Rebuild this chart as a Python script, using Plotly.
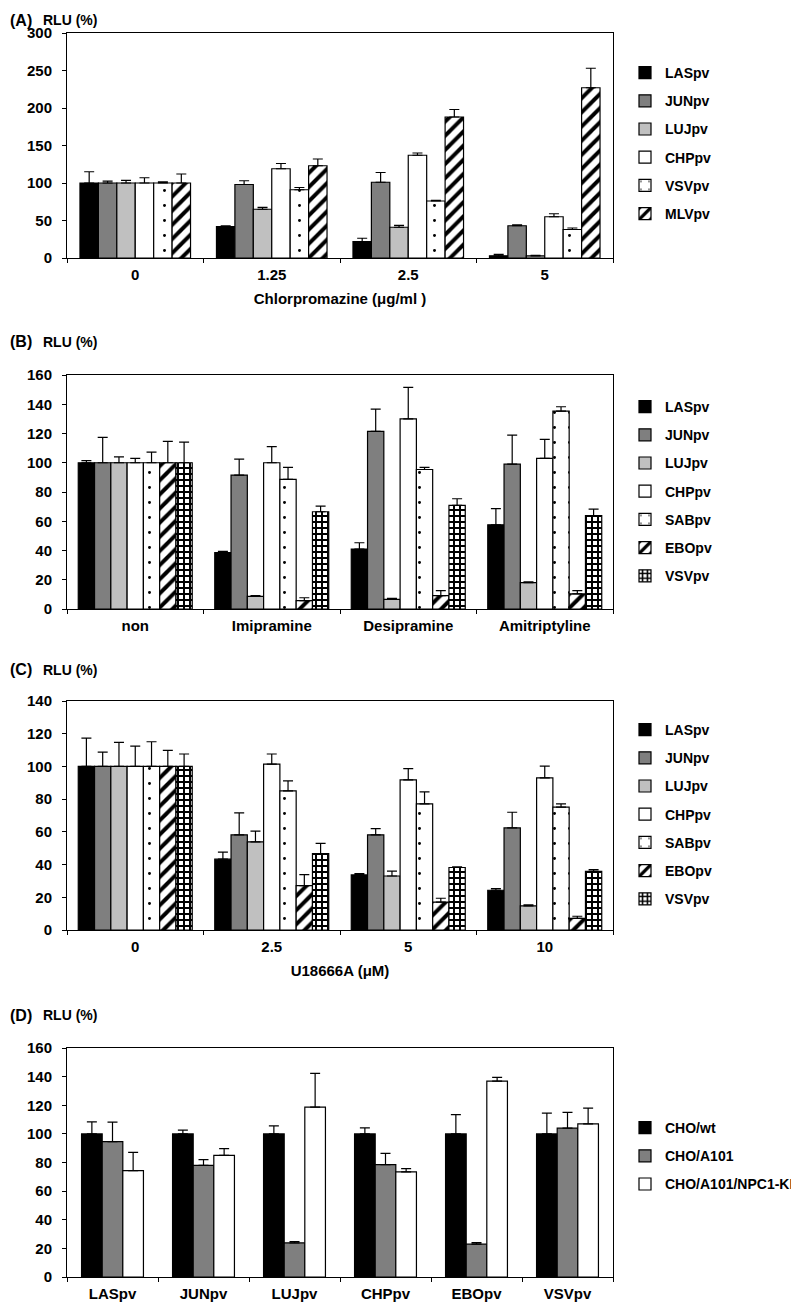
import plotly.graph_objects as go

W, H = 799, 1302

# ---------------- Panel A : Chlorpromazine ----------------
a_cats = ["0", "1.25", "2.5", "5"]
a_las = [100, 42, 22, 3]
a_las_err = [15, 1, 4.3, 1.8]
a_jun = [100, 98, 101, 43]
a_jun_err = [2.5, 5, 13, 1.2]
a_luj = [100, 65, 41, 2.7]
a_luj_err = [3.5, 2.5, 2.5, 0.8]
a_chp = [100, 119, 137, 55]
a_chp_err = [7, 7, 3, 4]
a_vsv = [100, 91, 76, 38]
a_vsv_err = [1.5, 3, 1, 2]
a_mlv = [100, 123, 188, 227]
a_mlv_err = [12, 9, 10, 26]

# ---------------- Panel B : tricyclic drugs ----------------
b_cats = ["non", "Imipramine", "Desipramine", "Amitriptyline"]
b_las = [100, 38.5, 41, 57.6]
b_las_err = [1.4, 0.9, 4.3, 11]
b_jun = [100, 91.6, 121.4, 99]
b_jun_err = [17.3, 10.9, 15.3, 19.9]
b_luj = [100, 8.7, 6.6, 18]
b_luj_err = [4, 0.4, 0.7, 0.5]
b_chp = [100, 100, 130, 103]
b_chp_err = [3, 11, 21.5, 13]
b_sab = [100, 88.6, 95.4, 135.3]
b_sab_err = [7.3, 8.2, 1.4, 3]
b_ebo = [100, 5.7, 9.1, 10.3]
b_ebo_err = [14.6, 2, 3.4, 2.2]
b_vsv = [100, 66.5, 70.8, 63.8]
b_vsv_err = [14.1, 3.9, 4.6, 4.5]

# ---------------- Panel C : U18666A ----------------
c_cats = ["0", "2.5", "5", "10"]
c_las = [100, 43.3, 33.7, 24.3]
c_las_err = [17.3, 4.3, 0.8, 1]
c_jun = [100, 58.2, 58.2, 62.4]
c_jun_err = [8.8, 13.4, 3.8, 9.6]
c_luj = [100, 53.9, 33, 14.7]
c_luj_err = [14.7, 6.5, 3, 0.6]
c_chp = [100, 101.4, 91.8, 93]
c_chp_err = [12.4, 6.2, 6.8, 7.2]
c_sab = [100, 85.1, 77.1, 75.1]
c_sab_err = [15.1, 6.1, 7.4, 2]
c_ebo = [100, 27.1, 17.1, 7.1]
c_ebo_err = [9.8, 6.8, 2.3, 1.3]
c_vsv = [100, 46.7, 38.2, 35.9]
c_vsv_err = [7.6, 6.3, 0.4, 1]

# ---------------- Panel D : CHO cells ----------------
d_cats = ["LASpv", "JUNpv", "LUJpv", "CHPpv", "EBOpv", "VSVpv"]
d_wt = [100, 100, 100, 100, 100, 100]
d_wt_err = [8.4, 2.6, 5.6, 4.2, 13.5, 14.5]
d_a101 = [94.6, 78, 23.8, 78.5, 22.9, 104]
d_a101_err = [13.6, 4, 1, 7.9, 1.1, 11]
d_ki = [74.3, 85, 118.7, 73.4, 136.9, 107]
d_ki_err = [12.8, 4.7, 23.6, 2.3, 2.6, 11]

# ---------------- styles ----------------
FONT = "Liberation Sans, Arial, sans-serif"
STY = {
    "black": dict(color="black"),
    "dark": dict(color="#7f7f7f"),
    "light": dict(color="#c0c0c0"),
    "white": dict(color="white"),
    "dots": dict(color="white", pattern=dict(shape=".", fgcolor="black", bgcolor="white",
                                             size=15, solidity=0.03, fillmode="replace")),
    "stripes": dict(color="white", pattern=dict(shape="/", fgcolor="black", bgcolor="white",
                                                size=10, solidity=0.4, fillmode="replace")),
    "checker": dict(color="white", pattern=dict(shape="+", fgcolor="black", bgcolor="white",
                                                size=6, solidity=0.55, fillmode="replace")),
}

# the page places the figure 8 px in from the window's top-left corner
OX, OY = 8, 8


def xp(px):
    return (px - OX) / W


def yp(px):
    return min(1.0, 1 - (px - OY) / H)


fig = go.Figure()


def add_panel(k, cats, series, group_w):
    n = len(series)
    bw = group_w / n
    legend = "legend" if k == 1 else f"legend{k}"
    for i, (name, vals, errs, sty) in enumerate(series):
        m = dict(STY[sty])
        m["line"] = dict(color="black", width=1.2)
        fig.add_trace(go.Bar(
            x=cats, y=vals, name=name,
            xaxis="x" if k == 1 else f"x{k}",
            yaxis="y" if k == 1 else f"y{k}",
            width=bw, offset=-group_w / 2 + i * bw,
            marker=m,
            error_y=dict(type="data", symmetric=False, array=errs,
                         arrayminus=[0] * len(errs), color="black",
                         thickness=1.2, width=5),
            legend=legend, legendgroup=f"p{k}_{i}",
        ))


add_panel(1, a_cats, [
    ("LASpv", a_las, a_las_err, "black"),
    ("JUNpv", a_jun, a_jun_err, "dark"),
    ("LUJpv", a_luj, a_luj_err, "light"),
    ("CHPpv", a_chp, a_chp_err, "white"),
    ("VSVpv", a_vsv, a_vsv_err, "dots"),
    ("MLVpv", a_mlv, a_mlv_err, "stripes"),
], 0.81)

add_panel(2, b_cats, [
    ("LASpv", b_las, b_las_err, "black"),
    ("JUNpv", b_jun, b_jun_err, "dark"),
    ("LUJpv", b_luj, b_luj_err, "light"),
    ("CHPpv", b_chp, b_chp_err, "white"),
    ("SABpv", b_sab, b_sab_err, "dots"),
    ("EBOpv", b_ebo, b_ebo_err, "stripes"),
    ("VSVpv", b_vsv, b_vsv_err, "checker"),
], 0.835)

add_panel(3, c_cats, [
    ("LASpv", c_las, c_las_err, "black"),
    ("JUNpv", c_jun, c_jun_err, "dark"),
    ("LUJpv", c_luj, c_luj_err, "light"),
    ("CHPpv", c_chp, c_chp_err, "white"),
    ("SABpv", c_sab, c_sab_err, "dots"),
    ("EBOpv", c_ebo, c_ebo_err, "stripes"),
    ("VSVpv", c_vsv, c_vsv_err, "checker"),
], 0.835)

add_panel(4, d_cats, [
    ("CHO/wt", d_wt, d_wt_err, "black"),
    ("CHO/A101", d_a101, d_a101_err, "dark"),
    ("CHO/A101/NPC1-KI", d_ki, d_ki_err, "white"),
], 0.68)

bold = dict(family=FONT, size=15, color="black", weight="bold")
legfont = dict(family=FONT, size=14, color="black", weight="bold")

# panel geometry in window pixels: (top, bottom, ymax, dtick, xtitle, first legend row, label_y)
panels = [
    (33, 258, 300, 50, "Chlorpromazine (μg/ml )", 73, 10),
    (375, 609, 160, 20, None, 407, 342),
    (701, 930, 140, 20, "U18666A (μM)", 730, 670),
    (1048, 1277, 160, 20, None, 1128, 1015),
]

layout = dict(
    width=W, height=H, margin=dict(l=0, r=0, t=0, b=0, autoexpand=False),
    paper_bgcolor="white", plot_bgcolor="white",
    barmode="overlay", font=bold, annotations=[],
)

for idx, (top, bot, ymax, dt, xtitle, lrow, laby) in enumerate(panels):
    k = idx + 1
    sx = "" if k == 1 else str(k)
    xa = dict(
        domain=[xp(67), xp(613)], anchor="y" + sx, type="category",
        showline=True, linecolor="black", linewidth=1, mirror=True,
        ticks="outside", tickson="boundaries", ticklen=4, tickcolor="black",
        showgrid=False, zeroline=False, tickfont=bold, ticklabelstandoff=3,
        automargin=False,
    )
    if xtitle:
        xa["title"] = dict(text=xtitle, font=bold, standoff=11)
    ya = dict(
        domain=[yp(bot), yp(top)], anchor="x" + sx, range=[0, ymax], dtick=dt,
        showline=True, linecolor="black", linewidth=1, mirror=True,
        ticks="outside", ticklen=4, tickcolor="black",
        showgrid=False, zeroline=False, tickfont=bold, ticklabelstandoff=7,
        automargin=False,
    )
    layout["xaxis" + sx] = xa
    layout["yaxis" + sx] = ya
    layout["legend" + sx] = dict(
        x=xp(625), y=yp(lrow - 16), xanchor="left", yanchor="top",
        xref="container", yref="container",
        traceorder="grouped", tracegroupgap=7, font=legfont,
        bgcolor="rgba(0,0,0,0)", borderwidth=0,
    )
    ya_anchor = "top" if k == 1 else "middle"
    layout["annotations"].append(dict(
        text=f"({'ABCD'[idx]})", x=0.0, y=yp(laby),
        xref="paper", yref="paper", xanchor="left", yanchor=ya_anchor,
        showarrow=False, font=dict(family=FONT, size=16, color="black", weight="bold")))
    layout["annotations"].append(dict(
        text="RLU (%)", x=xp(41), y=yp(laby),
        xref="paper", yref="paper", xanchor="left", yanchor=ya_anchor,
        showarrow=False, font=legfont))

fig.update_layout(**layout)
fig.write_html("out.html")
